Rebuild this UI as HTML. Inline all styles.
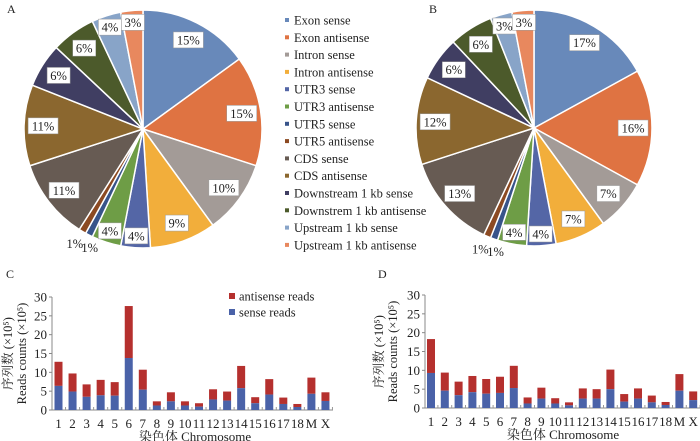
<!DOCTYPE html>
<html><head><meta charset="utf-8"><style>
body{margin:0;background:#fff}
svg{display:block;font-family:"Liberation Serif","Noto Serif CJK SC",serif}
</style></head><body>
<svg id="fig" width="700" height="441" viewBox="0 0 700 441"></svg>
<script>
const sliceNames=["Exon sense","Exon antisense","Intron sense","Intron antisense","UTR3 sense","UTR3 antisense","UTR5 sense","UTR5 antisense","CDS sense","CDS antisense","Downstream 1 kb sense","Downstrem 1 kb antisense","Upstream 1 kb sense","Upstream 1 kb antisense"];
const pieA=[15,15,10,9,4,4,1,1,11,11,6,6,4,3];
const pieB=[17,16,7,7,4,4,1,1,13,12,6,6,3,3];
const chroms=["1","2","3","4","5","6","7","8","9","10","11","12","13","14","15","16","17","18","M","X"];
const senseC=[6.4,4.9,3.5,3.9,3.8,13.8,5.4,1.2,2.3,1.2,0.9,2.8,2.5,5.8,1.8,4.1,1.6,0.8,4.3,2.4];
const totalC=[12.8,9.7,6.8,8.0,7.4,27.6,10.7,2.3,4.7,2.3,1.8,5.5,4.9,11.7,3.4,8.2,3.3,1.6,8.6,4.7];
const senseD=[9.3,4.6,3.4,4.2,3.8,4.0,5.3,1.2,2.5,1.2,0.7,2.5,2.5,5.0,1.7,2.5,1.5,0.8,4.6,2.1];
const totalD=[18.3,9.4,7.0,8.5,7.7,8.3,11.2,2.8,5.4,2.6,1.5,5.2,5.0,10.2,3.7,5.2,3.3,1.6,9.0,4.4];
const yTicks=[0,5,10,15,20,25,30];

const colors=["#6889ba","#df7342","#a39b97","#f2ae3b","#5466a6","#6e9d46","#38548a","#8c4a22","#675b53","#8b672f","#403e62","#4c5a2b","#88a4c8","#e8885e"];
const NS="http://www.w3.org/2000/svg";
const svg=document.getElementById('fig');
function mk(tag,attrs,parent){const e=document.createElementNS(NS,tag);for(const k in attrs)e.setAttribute(k,attrs[k]);(parent||svg).appendChild(e);return e;}
function txt(s,attrs,parent){const e=mk('text',attrs,parent);e.textContent=s;return e;}

function pie(vals,cx,cy,r,name){
  const g=mk('g',{});
  
  
  const tot=vals.reduce((a,b)=>a+b,0);
  let a0=0;
  vals.forEach((v,i)=>{
    const a1=a0+v/tot*2*Math.PI;
    const x0=cx+r*Math.sin(a0),y0=cy-r*Math.cos(a0),x1=cx+r*Math.sin(a1),y1=cy-r*Math.cos(a1);
    const p=mk('path',{d:`M${cx},${cy}L${x0},${y0}A${r},${r} 0 ${a1-a0>Math.PI?1:0} 1 ${x1},${y1}Z`,fill:colors[i],stroke:'#fff','stroke-width':1.5},g);
    
    
    const am=(a0+a1)/2;
    const small=v<=1;
    const rr=small?r*1.06:(v<=4?r*0.9:r*0.84);
    let lx=cx+rr*Math.sin(am),ly=cy-rr*Math.cos(am);
    if(small){lx+=(i==6?4:-4);ly+=6;}
    const w=v>=10?30:23;
    if(!small){
      const b=mk('rect',{x:lx-w/2,y:ly-8,width:w,height:16,fill:'#fff',stroke:'#999','stroke-width':0.5},g);
      
      
    }
    const t=txt(v+'%',{x:lx,y:ly+4.5,'text-anchor':'middle','font-size':12.5,fill:'#222'},g);
    
    
    a0=a1;
  });
}
pie(pieA,143,129,119,'pie-a');
pie(pieB,534,128,118,'pie-b');
let t;
t=txt('A',{x:7,y:13,'font-size':12,fill:'#222'});
t=txt('B',{x:429,y:13,'font-size':12,fill:'#222'});
t=txt('C',{x:6,y:278,'font-size':12,fill:'#222'});
t=txt('D',{x:378,y:278,'font-size':12,fill:'#222'});

// pie legend
const lg=mk('g',{});


sliceNames.forEach((n,i)=>{
  const y=20+i*17.3;
  const m=mk('rect',{x:285,y:y-2,width:4,height:4,fill:colors[i]},lg);
  
  
  const tt=txt(n,{x:294,y:y+4.5,'font-size':12.5,fill:'#222'},lg);
  
  
});

function bars(sense,total,o){
  const g=mk('g',{});
  
  
  const y=v=>o.y0-(o.y0-o.y30)*v/30;
  const x=i=>o.xFirst+i*o.step;
  const ax=mk('path',{d:`M${o.ax},${o.y30}V${o.y0}H${o.axEnd}`,stroke:'#888','stroke-width':1,fill:'none'},g);
  
  yTicks.forEach(v=>{
    mk('line',{x1:o.ax-3,x2:o.ax,y1:y(v),y2:y(v),stroke:'#888'},g);
    const l=txt(v,{x:o.ax-5,y:y(v)+4.5,'text-anchor':'end','font-size':13,fill:'#222'},g);
    
  });
  chroms.forEach((c,i)=>{
    const bw=8;
    mk('line',{x1:x(i)+o.step/2,x2:x(i)+o.step/2,y1:o.y0,y2:o.y0-3,stroke:'#999'},g);
    const b1=mk('rect',{x:x(i)-bw/2,y:y(total[i]),width:bw,height:y(sense[i])-y(total[i]),fill:'#b5302e'},g);
    
    const b2=mk('rect',{x:x(i)-bw/2,y:y(sense[i]),width:bw,height:o.y0-y(sense[i]),fill:'#4a62a8'},g);
    
    const l=txt(c,{x:x(i),y:o.y0+18,'text-anchor':'middle','font-size':13,fill:'#222'},g);
    
  });
  const xt=txt('染色体 Chromosome',{x:o.xtX,y:o.y0+31,'text-anchor':'middle','font-size':13,fill:'#222'},g);
  
  const my=(o.y0+o.y30)/2;
  const t1=txt('序列数 (×10⁵)',{x:o.yt1,y:my,'text-anchor':'middle','font-size':12.5,fill:'#222',transform:`rotate(-90 ${o.yt1} ${my})`},g);
  
  const t2=txt('Reads counts (×10⁵)',{x:o.yt2,y:my,'text-anchor':'middle','font-size':12.5,fill:'#222',transform:`rotate(-90 ${o.yt2} ${my})`},g);
  
}
bars(senseC,totalC,{name:'bar-chart-c',y0:410,y30:297,ax:52,axEnd:333,xFirst:58.5,step:14.05,xtX:195,yt1:12,yt2:26});
bars(senseD,totalD,{name:'bar-chart-d',y0:408,y30:295,ax:425,axEnd:700,xFirst:431,step:13.8,xtX:563,yt1:383,yt2:397});

// legend C
const lc=mk('g',{});


[["antisense reads","#b5302e",296],["sense reads","#4a62a8",312]].forEach(d=>{
  const m=mk('rect',{x:229,y:d[2]-3,width:6,height:6,fill:d[1]},lc);
  
  const tt=txt(d[0],{x:239,y:d[2]+4.5,'font-size':12.5,fill:'#222'},lc);
  
});
</script>
</body></html>
